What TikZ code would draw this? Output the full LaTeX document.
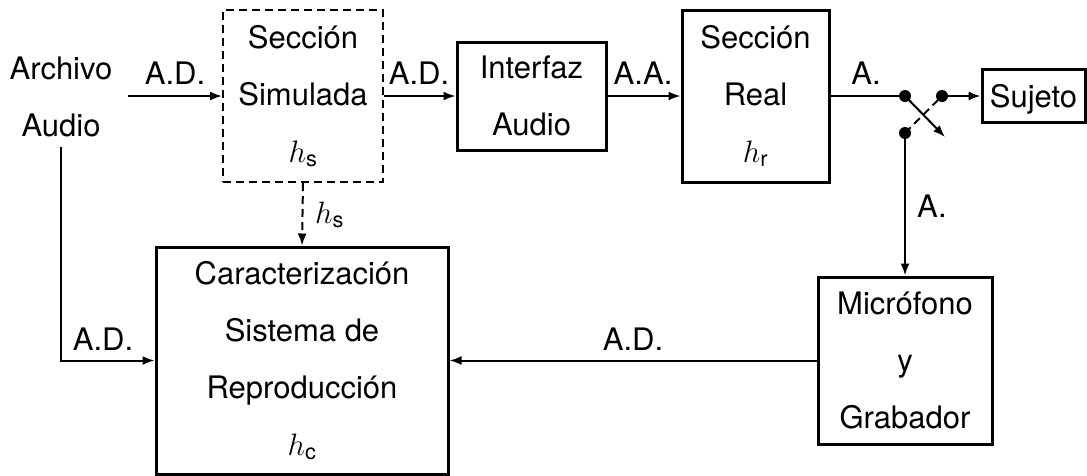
\RequirePackage{fix-cm}
\documentclass[tikz,border=0pt]{standalone}
\usepackage{fontspec}
\setmainfont{TeX Gyre Heros}
\setsansfont{TeX Gyre Heros}
\usetikzlibrary{arrows.meta}
\begin{document}
\begin{tikzpicture}[x=1pt,y=-1pt,
  every node/.style={font=\fontsize{31}{57}\selectfont, inner sep=0pt},
  block/.style={draw, line width=3pt, align=center},
  simblock/.style={draw, line width=2pt, dash pattern=on 8pt off 5pt, align=center},
  flow/.style={line width=2pt, -{Latex[length=12pt,width=9pt]}},
  wire/.style={line width=2pt},
  dashwire/.style={line width=2pt, dash pattern=on 8pt off 5pt},
  tag/.style={anchor=base},
  junction/.style={circle, fill, inner sep=0pt, minimum size=12pt},
]
\useasboundingbox (0,0) rectangle (1087,475);

% processing blocks
\node[align=center] (src) at (61,97) {Archivo\\Audio};
\node[simblock, minimum width=160, minimum height=172] (sim) at (303,96) {Sección\\Simulada\\$h_\mathsf{s}$};
\node[block, minimum width=149, minimum height=108] (iface) at (531.5,96) {Interfaz\\Audio};
\node[block, minimum width=147, minimum height=172] (real) at (755.5,96) {Sección\\Real\\$h_\mathsf{r}$};
\node[block, minimum width=103, minimum height=53, text depth=0pt] (sujeto) at (1033.5,96) {Sujeto};
\node[block, minimum width=292, minimum height=227] (carac) at (302,360.5) {Caracterización\\Sistema de\\Reproducción\\$h_\mathsf{c}$};
\node[block, minimum width=174, minimum height=167] (mic) at (905,360.5) {Micrófono\\y\\Grabador};

% switch contacts
\node[junction] (sw) at (905,96) {};
\node[junction] (swout) at (942,96) {};
\node[junction] (swrec) at (905,133) {};
\coordinate (swtip) at (945,137);
\coordinate (in0) at (128,96);

% signal path
\draw[flow] (in0) -- (sim.west);
\draw[flow] (sim.east) -- (iface.west);
\draw[flow] (iface.east) -- (real.west);
\draw[wire] (real.east) -- (sw.center);
\draw[flow] (sw.center) -- (swtip);
\draw[dashwire] (swrec.center) -- (swout.center);
\draw[flow] (swout.center) -- (sujeto.west);
\draw[flow] (swrec.center) -- (mic.north);
\draw[flow] (mic.west) -- (carac.east);
\draw[flow, dash pattern=on 8pt off 5pt] (sim.south) -- (carac.north);
\draw[flow] ([yshift=-10pt]src.south) |- (carac.west);

% signal labels
\node[tag] (l1) at (175,84) {A.D.};
\node[tag] (l2) at (419,84) {A.D.};
\node[tag] (l3) at (643,84) {A.A.};
\node[tag] (l4) at (866,84) {A.};
\node[anchor=base west] (l5) at (315,223) {$h_\mathsf{s}$};
\node[anchor=base west] (l6) at (917,217) {A.};
\node[tag] (l7) at (103,350) {A.D.};
\node[tag] (l8) at (633,350) {A.D.};
\end{tikzpicture}
\end{document}
